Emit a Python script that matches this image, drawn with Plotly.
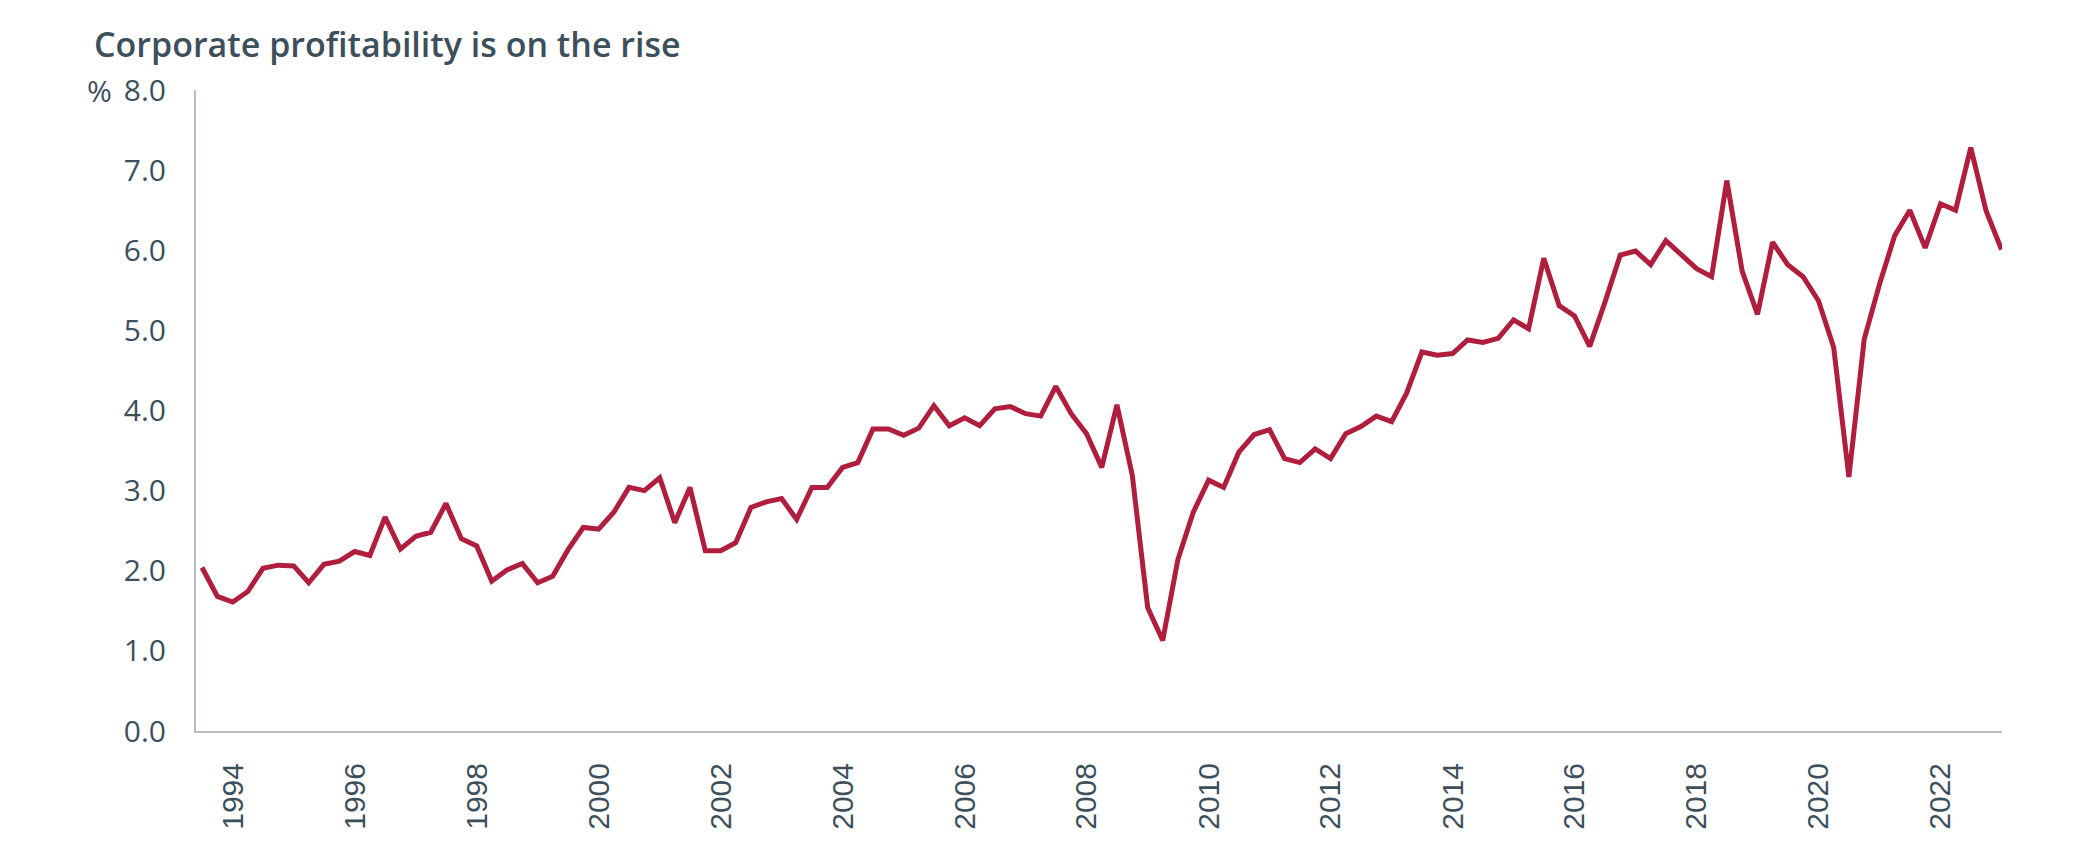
import pandas as pd
import plotly.graph_objects as go

# Quarterly series, quarter-end dates 1993 Q2 .. 2022 Q4 (values in %)
first_quarter_end = "1993-06-30"
profit_share = [
    2.04, 1.68, 1.61, 1.74, 2.03, 2.07, 2.06, 1.85,
    2.08, 2.12, 2.24, 2.19, 2.67, 2.27, 2.43, 2.48,
    2.84, 2.40, 2.31, 1.87, 2.01, 2.09, 1.85, 1.93,
    2.26, 2.54, 2.52, 2.73, 3.04, 3.00, 3.16, 2.60,
    3.04, 2.25, 2.25, 2.35, 2.79, 2.86, 2.90, 2.64,
    3.04, 3.04, 3.29, 3.35, 3.77, 3.77, 3.69, 3.78,
    4.06, 3.81, 3.91, 3.81, 4.02, 4.05, 3.96, 3.93,
    4.30, 3.96, 3.71, 3.29, 4.07, 3.19, 1.54, 1.13,
    2.14, 2.73, 3.13, 3.04, 3.48, 3.70, 3.76, 3.40,
    3.35, 3.52, 3.40, 3.71, 3.80, 3.93, 3.86, 4.22,
    4.73, 4.69, 4.71, 4.88, 4.85, 4.90, 5.13, 5.02,
    5.90, 5.31, 5.18, 4.80, 5.35, 5.94, 5.99, 5.82,
    6.12, 5.95, 5.77, 5.67, 6.87, 5.74, 5.20, 6.10,
    5.82, 5.67, 5.37, 4.79, 3.17, 4.89, 5.58, 6.18,
    6.50, 6.03, 6.58, 6.50, 7.28, 6.49, 6.01,
]
quarters = pd.date_range(first_quarter_end, periods=len(profit_share), freq="QE")

y_ticks = [0, 1, 2, 3, 4, 5, 6, 7, 8]
y_tick_labels = ["0.0", "1.0", "2.0", "3.0", "4.0", "5.0", "6.0", "7.0", "8.0"]

TEXT = "#3E4F5C"
LINE = "#AF1E3C"
AXIS = "#B7BCC1"

W, H = 2084, 851
L, R, T, B = 196, 82, 90, 120

fig = go.Figure()
fig.add_trace(go.Scatter(
    x=quarters, y=profit_share, mode="lines",
    line=dict(color=LINE, width=5),
    hoverinfo="x+y",
))

fig.update_layout(
    width=W, height=H,
    margin=dict(l=L, r=R, t=T, b=B, pad=0),
    paper_bgcolor="white", plot_bgcolor="white",
    showlegend=False,
    title=dict(
        text="Corporate profitability is on the rise",
        x=94 / W, xanchor="left", xref="container",
        y=1 - 45 / H, yanchor="middle", yref="container",
        font=dict(family="Open Sans", size=34, color=TEXT, weight=600),
    ),
)

fig.update_xaxes(
    type="date",
    range=["1993-05-25", "2023-01-03"],
    tick0="1994-01-01", dtick="M24", tickformat="%Y",
    tickangle=-90,
    showgrid=False, zeroline=False,
    showline=True, linecolor=AXIS, linewidth=2,
    ticks="", ticklabelstandoff=18,
    tickfont=dict(family="Liberation Sans", size=30, color=TEXT),
)

fig.update_yaxes(
    range=[0, 8],
    tickvals=y_ticks, ticktext=y_tick_labels,
    showgrid=False, zeroline=False,
    showline=True, linecolor=AXIS, linewidth=2,
    ticks="", ticklabelstandoff=22,
    tickfont=dict(family="Open Sans", size=30, color=TEXT),
)

fig.add_annotation(
    text="%", xref="paper", yref="y",
    x=(114 - L) / (W - L - R), y=8,
    xanchor="right", yanchor="middle", showarrow=False,
    font=dict(family="Open Sans", size=30, color=TEXT),
)

fig.write_html("out.html")
